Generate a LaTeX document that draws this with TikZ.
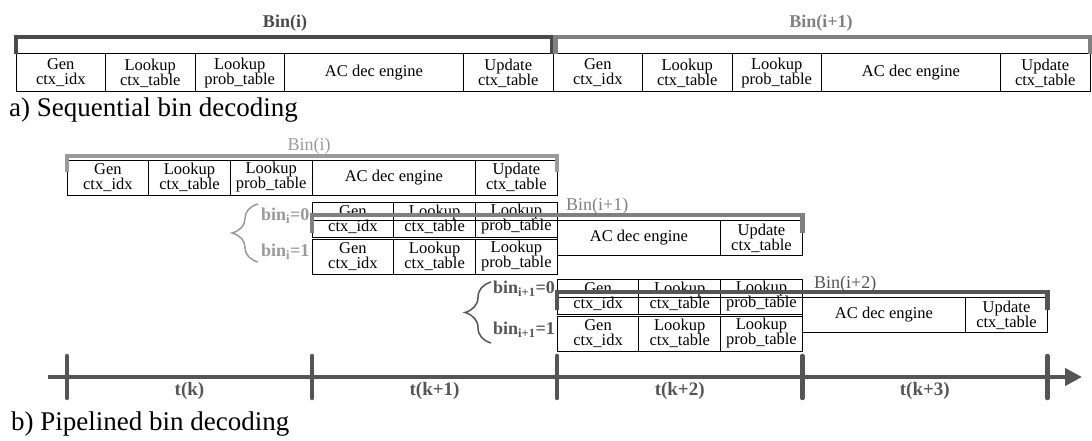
\documentclass[tikz,border=0pt]{standalone}
\usepackage{fontspec}
\setmainfont{Liberation Serif}
\usetikzlibrary{arrows.meta,positioning,calc,decorations.pathreplacing}
\definecolor{bindark}{HTML}{4A4A4A}
\definecolor{binmid}{HTML}{808080}
\definecolor{binlight}{HTML}{9A9A9A}
\definecolor{axisgray}{HTML}{555555}
\newcommand{\cellfont}{\fontsize{16.5}{15}\selectfont}
\newcommand{\lblfont}{\fontsize{18}{18}\selectfont}
\newcommand{\capfont}{\fontsize{27}{27}\selectfont}

\begin{document}
\begin{tikzpicture}[x=1pt,y=-1pt,
  cell/.style={draw=black,line width=1pt,fill=white,align=center,font=\cellfont,inner sep=0pt,outer sep=0pt},
  cella/.style={cell,minimum height=38pt,minimum width=89.5pt},
  aca/.style={cell,minimum height=38pt,minimum width=179pt},
  cellb/.style={cell,minimum height=35pt,minimum width=81.7pt},
  acb/.style={cell,minimum height=35pt,minimum width=163.4pt},
  brk/.style={line width=4.5pt,line join=miter},
  lbl/.style={font=\lblfont,inner sep=1pt},
  blbl/.style={font=\lblfont\bfseries,inner sep=1pt},
  brc/.style={decorate,decoration={brace,amplitude=26pt},line width=1.5pt},
  axisline/.style={line width=4.5pt,color=axisgray,-{Triangle[length=17pt,width=17pt]}},
  tick/.style={line width=4.5pt,color=axisgray,line cap=round}]
\useasboundingbox (0,0) rectangle (1092,441);

% a) sequential
\node[cella,anchor=north west] (a1) at (16,54) {Gen\\ctx\_idx};
\node[cella,right=0pt of a1] (a2) {Lookup\\ctx\_table};
\node[cella,right=0pt of a2] (a3) {Lookup\\prob\_table};
\node[aca,right=0pt of a3] (a4) {AC dec engine};
\node[cella,right=0pt of a4] (a5) {Update\\ctx\_table};
\node[cella,right=0pt of a5] (a6) {Gen\\ctx\_idx};
\node[cella,right=0pt of a6] (a7) {Lookup\\ctx\_table};
\node[cella,right=0pt of a7] (a8) {Lookup\\prob\_table};
\node[aca,right=0pt of a8] (a9) {AC dec engine};
\node[cella,right=0pt of a9] (a10) {Update\\ctx\_table};
\draw[brk,bindark] (a1.north west) -- ++(0,-17) -| ($(a5.north east)+(-1,0)$);
\draw[brk,binmid] ($(a6.north west)+(2.5,0)$) -- ++(0,-17) -| (a10.north east);
\node[blbl,text=bindark] (la) at (285,23) {Bin(i)};
\node[blbl,text=binmid] (lb) at (821,23) {Bin(i+1)};
\node[anchor=base west,font=\capfont,inner sep=0pt] (capa) at (9,117) {a) Sequential bin decoding};

% b) pipelined
\node[cellb,anchor=north west] (p1) at (67,160) {Gen\\ctx\_idx};
\node[cellb,right=0pt of p1] (p2) {Lookup\\ctx\_table};
\node[cellb,right=0pt of p2] (p3) {Lookup\\prob\_table};
\node[acb,right=0pt of p3] (p4) {AC dec engine};
\node[cellb,right=0pt of p4] (p5) {Update\\ctx\_table};

\node[cellb,anchor=north west] (q1) at (312.1,202) {Gen\\ctx\_idx};
\node[cellb,right=0pt of q1] (q2) {Lookup\\ctx\_table};
\node[cellb,right=0pt of q2] (q3) {Lookup\\prob\_table};
\node[cellb,below=2pt of q1] (r1) {Gen\\ctx\_idx};
\node[cellb,right=0pt of r1] (r2) {Lookup\\ctx\_table};
\node[cellb,right=0pt of r2] (r3) {Lookup\\prob\_table};
\node[acb,anchor=north west] (s1) at (557.2,220.5) {AC dec engine};
\node[cellb,right=0pt of s1] (s2) {Update\\ctx\_table};

\node[cellb,anchor=north west] (u1) at (557.2,279) {Gen\\ctx\_idx};
\node[cellb,right=0pt of u1] (u2) {Lookup\\ctx\_table};
\node[cellb,right=0pt of u2] (u3) {Lookup\\prob\_table};
\node[cellb,below=2pt of u1] (v1) {Gen\\ctx\_idx};
\node[cellb,right=0pt of v1] (v2) {Lookup\\ctx\_table};
\node[cellb,right=0pt of v2] (v3) {Lookup\\prob\_table};
\node[acb,anchor=north west] (w1) at (802.3,297.5) {AC dec engine};
\node[cellb,right=0pt of w1] (w2) {Update\\ctx\_table};

\draw[line width=1pt] (q1.west |- s1.north) -- (s1.north west);
\draw[line width=1pt] (u1.west |- w1.north) -- (w1.north west);
\draw[brk,binlight] ($(p1.north west)+(0,12)$) -- ++(0,-16) -| ($(p5.north east)+(0,12)$);
\draw[brk,binmid] ($(q1.west |- s1.north)+(0,12)$) -- ++(0,-17.5) -| ($(s2.north east)+(0,12)$);
\draw[brk,axisgray] ($(u1.west |- w1.north)+(0,12)$) -- ++(0,-17.5) -| ($(w2.north east)+(0,12)$);
\node[lbl,text=binlight] (lp) at (309,146) {Bin(i)};
\node[lbl,text=binmid,anchor=west] (ls) at (565,206) {Bin(i+1)};
\node[lbl,text=axisgray,anchor=west] (lw) at (813,284) {Bin(i+2)};

\draw[brc,binlight] (258,262) -- (258,204);
\node[blbl,text=binlight,anchor=west] (b0) at (260,216) {bin\textsubscript{i}=0};
\node[blbl,text=binlight,anchor=west] (b1) at (260,252) {bin\textsubscript{i}=1};
\draw[brc,axisgray] (491,343) -- (491,282);
\node[blbl,text=axisgray,anchor=west] (c0) at (492,289) {bin\textsubscript{i+1}=0};
\node[blbl,text=axisgray,anchor=west] (c1) at (492,330) {bin\textsubscript{i+1}=1};

% time axis
\coordinate (t0) at (48,377);
\coordinate (t1) at (1082,377);
\draw[axisline] (t0) -- (t1);
\foreach \x in {67,312.1,557.2,802.3,1047.4}
  \draw[tick] (\x,356) -- (\x,398);
\foreach \x/\lab in {189.5/t(k),434.6/t(k+1),679.7/t(k+2),924.8/t(k+3)}
  \node[blbl,text=axisgray,font=\fontsize{19}{19}\selectfont\bfseries] at (\x,391) {\lab};
\node[anchor=base west,font=\capfont,inner sep=0pt] (capb) at (11,430) {b) Pipelined bin decoding};
\end{tikzpicture}
\end{document}
